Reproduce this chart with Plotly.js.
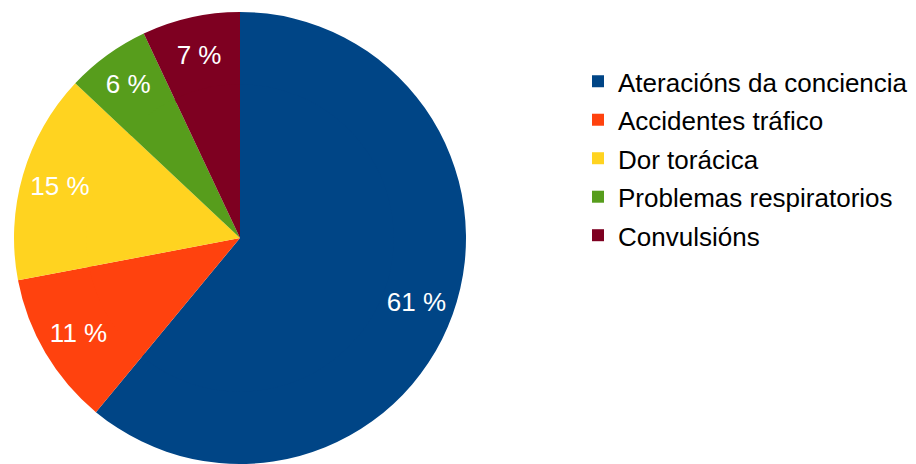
<!DOCTYPE html>
<html>
<head>
<meta charset="utf-8">
<script src="https://cdn.plot.ly/plotly-3.0.1.min.js"></script>
<style>html,body{margin:0;padding:0;background:#fff;}#chart{width:916px;height:464px;}</style>
</head>
<body>
<div id="chart"></div>
<script>
const categories = ["Ateracións da conciencia", "Accidentes tráfico", "Dor torácica", "Problemas respiratorios", "Convulsións"];
const values = [61, 11, 15, 6, 7];
const colors = ["#004586", "#ff420e", "#ffd320", "#579d1c", "#7e0021"];

const FONT = "Liberation Sans, Arial, sans-serif";
const dom = {x: [13/916, 467/916], y: [0, 452/464]};

// legend text drawn at 26px while the legend rows keep a slightly taller line height
const legendLabels = categories.map(c => '<span style="font-size:26px">' + c + '</span>');

// Outer ring carries the labels (placed near the rim) and the legend
const ring = {
  type: "pie",
  labels: legendLabels,
  values: values,
  sort: false,
  direction: "clockwise",
  rotation: 0,
  hole: 0.66,
  marker: {colors: colors, line: {width: 0}},
  texttemplate: "%{value} %",
  textposition: "inside",
  insidetextorientation: "horizontal",
  textfont: {family: FONT, size: 26, color: "#ffffff"},
  hoverinfo: "percent",
  domain: dom
};

// Inner disc fills the centre with the same slices
const cx = (dom.x[0] + dom.x[1]) / 2, cy = (dom.y[0] + dom.y[1]) / 2;
const innerR = 0.68;
const inner = {
  type: "pie",
  labels: legendLabels,
  values: values,
  sort: false,
  direction: "clockwise",
  rotation: 0,
  marker: {colors: colors, line: {width: 0}},
  textinfo: "none",
  showlegend: false,
  hoverinfo: "percent",
  domain: {
    x: [cx - (dom.x[1] - dom.x[0]) / 2 * innerR, cx + (dom.x[1] - dom.x[0]) / 2 * innerR],
    y: [cy - (dom.y[1] - dom.y[0]) / 2 * innerR, cy + (dom.y[1] - dom.y[0]) / 2 * innerR]
  }
};

const layout = {
  width: 916, height: 464,
  margin: {l: 0, r: 0, t: 0, b: 0},
  paper_bgcolor: "#ffffff",
  showlegend: true,
  legend: {
    x: 578/916, y: 1 - 57/464, xanchor: "left", yanchor: "top",
    font: {family: FONT, size: 27.3, color: "#000000"},
    bgcolor: "rgba(0,0,0,0)"
  }
};

Plotly.newPlot("chart", [ring, inner], layout, {displayModeBar: false, staticPlot: true});
</script>
</body>
</html>
